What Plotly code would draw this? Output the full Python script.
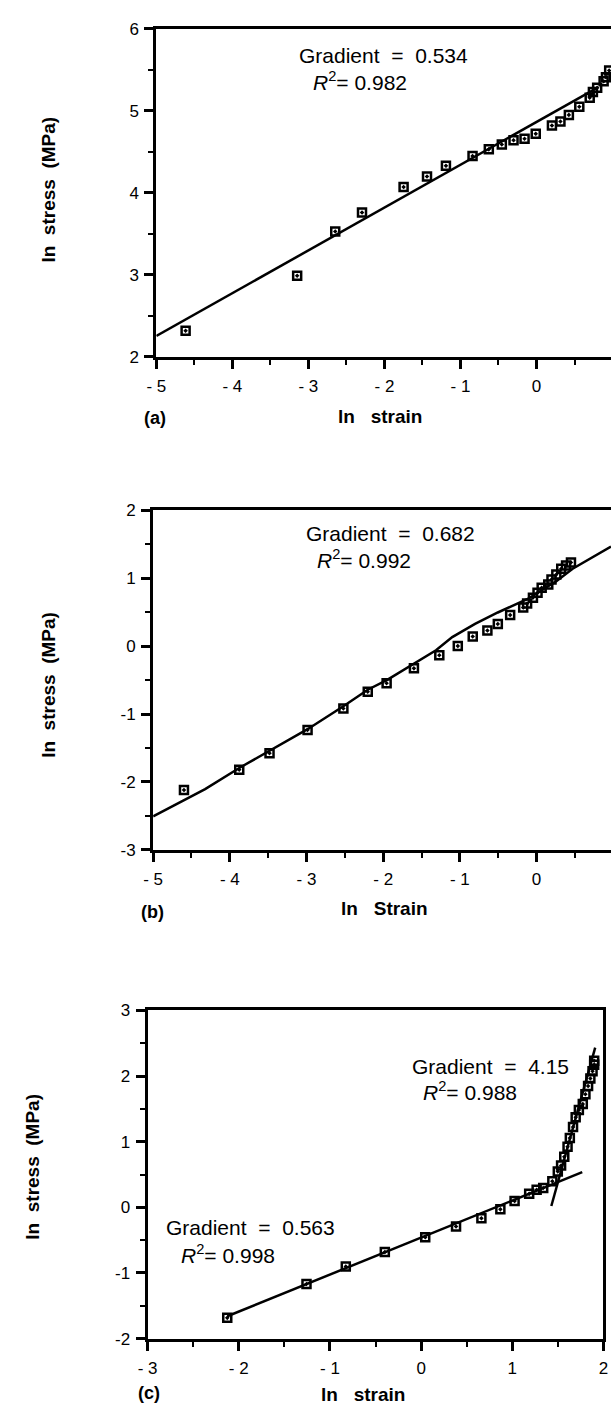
import plotly.graph_objects as go

W, H = 616, 1416
FONT = "Liberation Sans, Arial, Helvetica, sans-serif"

# ---------------- data ----------------
# panel (a)
a_strain = [-4.615, -3.148, -2.647, -2.295, -1.748, -1.440, -1.191, -0.841, -0.627, -0.456,
            -0.302, -0.157, -0.010, 0.203, 0.315, 0.426, 0.563, 0.700, 0.742, 0.798,
            0.883, 0.914, 0.956]
a_stress = [2.32, 2.99, 3.53, 3.76, 4.07, 4.20, 4.33, 4.45, 4.53, 4.59,
            4.64, 4.66, 4.72, 4.82, 4.87, 4.95, 5.05, 5.16, 5.23, 5.28,
            5.36, 5.41, 5.49]
a_fit_x = [-5.0, 0.78]
a_fit_y = [2.256, 5.27]

# panel (b)
b_strain = [-4.598, -3.877, -3.482, -2.986, -2.519, -2.201, -1.955, -1.599, -1.268, -1.027,
            -0.832, -0.641, -0.505, -0.344, -0.174, -0.123, -0.047, 0.013, 0.067, 0.153,
            0.195, 0.258, 0.322, 0.385, 0.449]
b_stress = [-2.119, -1.818, -1.576, -1.233, -0.917, -0.670, -0.544, -0.326, -0.132, 0.003,
            0.144, 0.231, 0.329, 0.459, 0.570, 0.628, 0.715, 0.788, 0.860, 0.910,
            0.983, 1.055, 1.142, 1.190, 1.234]
b_fit_x = [-5.0, -4.322, -3.877, -3.473, -2.986, -2.519, -2.201, -1.947, -1.599, -1.311,
           -1.099, -0.802, -0.505, -0.123, 0.258, 0.471, 0.971]
b_fit_y = [-2.506, -2.105, -1.794, -1.538, -1.222, -0.884, -0.641, -0.496, -0.253, -0.060,
           0.134, 0.329, 0.497, 0.692, 0.958, 1.142, 1.467]

# panel (c)
c_strain = [-2.126, -1.257, -0.826, -0.398, 0.045, 0.383, 0.661, 0.869, 1.025, 1.185,
            1.267, 1.339, 1.439, 1.499, 1.535, 1.570, 1.606, 1.631, 1.666, 1.695,
            1.730, 1.773, 1.802, 1.831, 1.856, 1.880, 1.898, 1.898]
c_stress = [-1.684, -1.167, -0.903, -0.682, -0.457, -0.291, -0.167, -0.031, 0.095, 0.205,
            0.269, 0.295, 0.396, 0.546, 0.636, 0.771, 0.922, 1.057, 1.222, 1.372,
            1.482, 1.572, 1.723, 1.847, 1.963, 2.073, 2.173, 2.234]
c_fit1_x = [-2.126, 1.767]
c_fit1_y = [-1.659, 0.535]
c_fit2_x = [1.428, 1.909]
c_fit2_y = [0.020, 2.433]

# tick labels
a_xticks = [-5, -4, -3, -2, -1, 0, 1]
a_xtext = ["- 5", "- 4", "- 3", "- 2", "- 1", "0", "1"]
a_yticks = [2, 3, 4, 5, 6]
b_xticks = [-5, -4, -3, -2, -1, 0, 1]
b_xtext = ["- 5", "- 4", "- 3", "- 2", "- 1", "0", "1"]
b_yticks = [-3, -2, -1, 0, 1, 2]
c_xticks = [-3, -2, -1, 0, 1, 2]
c_xtext = ["- 3", "- 2", "- 1", "0", "1", "2"]
c_yticks = [-2, -1, 0, 1, 2, 3]


def fx(px):
    return px / W


def fy(py):
    return 1 - py / H


fig = go.Figure()

marker = dict(symbol="square-open-dot", size=8, color="black", line=dict(width=2.5, color="black"))
line = dict(color="black", width=2.5)

# (a)
fig.add_trace(go.Scatter(x=a_fit_x, y=a_fit_y, mode="lines", line=line, xaxis="x", yaxis="y"))
fig.add_trace(go.Scatter(x=a_strain, y=a_stress, mode="markers", marker=marker, xaxis="x", yaxis="y"))
# (b)
fig.add_trace(go.Scatter(x=b_fit_x, y=b_fit_y, mode="lines", line=line, xaxis="x2", yaxis="y2"))
fig.add_trace(go.Scatter(x=b_strain, y=b_stress, mode="markers", marker=marker, xaxis="x2", yaxis="y2"))
# (c)
fig.add_trace(go.Scatter(x=c_fit1_x, y=c_fit1_y, mode="lines", line=line, xaxis="x3", yaxis="y3"))
fig.add_trace(go.Scatter(x=c_fit2_x, y=c_fit2_y, mode="lines", line=line, xaxis="x3", yaxis="y3"))
fig.add_trace(go.Scatter(x=c_strain, y=c_stress, mode="markers", marker=marker, xaxis="x3", yaxis="y3"))

tickfont = dict(family=FONT, size=17, color="black")


def xax(domain, rng, vals, text, anchor, mirror):
    return dict(domain=domain, range=rng, anchor=anchor, tickmode="array", tickvals=vals, ticktext=text,
                ticks="outside", ticklen=9, tickwidth=2.5, tickcolor="black",
                minor=dict(ticks="outside", ticklen=5, tickwidth=2, tickcolor="black", dtick=0.5,
                           showgrid=False),
                showline=True, linewidth=3, linecolor="black", mirror=mirror,
                showgrid=False, zeroline=False, tickfont=tickfont, ticklabelstandoff=3)


def yax(domain, rng, vals, anchor, mirror):
    return dict(domain=domain, range=rng, anchor=anchor, tickmode="array", tickvals=vals,
                ticktext=[str(v) for v in vals],
                ticks="outside", ticklen=9, tickwidth=2.5, tickcolor="black",
                minor=dict(ticks="outside", ticklen=5, tickwidth=2, tickcolor="black", dtick=0.5,
                           showgrid=False),
                showline=True, linewidth=3, linecolor="black", mirror=mirror,
                showgrid=False, zeroline=False, tickfont=tickfont, ticklabelstandoff=2)


a_xd = [fx(150), fx(616)]
a_yd = [fy(352.7), fy(20)]
b_xd = [fx(146.7), fx(616)]
b_yd = [fy(852.3), fy(508.3)]
c_xd = [fx(141), fx(608.3)]
c_yd = [fy(1347.7), fy(1015)]

fig.update_layout(
    width=W, height=H, margin=dict(l=0, r=0, t=0, b=0),
    paper_bgcolor="white", plot_bgcolor="white", showlegend=False,
    xaxis=xax(a_xd, [-5, 0.98], a_xticks, a_xtext, "y", True),
    yaxis=yax(a_yd, [2, 6], a_yticks, "x", False),
    xaxis2=xax(b_xd, [-5, 0.971], b_xticks, b_xtext, "y2", True),
    yaxis2=yax(b_yd, [-3, 2], b_yticks, "x2", False),
    xaxis3=xax(c_xd, [-3, 2], c_xticks, c_xtext, "y3", True),
    yaxis3=yax(c_yd, [-2, 3], c_yticks, "x3", True),
)

ann_font = dict(family=FONT, size=21, color="black")
title_font = dict(family=FONT, size=19, color="black")
lab_font = dict(family=FONT, size=18, color="black")
NB = "\u00a0"


def ann(px, py, text, font, xanchor="left", angle=0):
    fig.add_annotation(x=fx(px), y=fy(py), xref="paper", yref="paper", text=text, showarrow=False,
                       xanchor=xanchor, yanchor="middle", font=font, textangle=angle)


def r2(val):
    return "<i>R</i><sup>2</sup>= " + val


# gradient annotations
ann(294, 47, "Gradient" + NB + " = " + NB + "0.534", ann_font)
ann(308, 73, r2("0.982"), ann_font)
ann(301, 532, "Gradient" + NB + " = " + NB + "0.682", ann_font)
ann(313, 557, r2("0.992"), ann_font)
ann(410, 1072, "Gradient" + NB + " = " + NB + "4.15", ann_font)
ann(421, 1097, r2("0.988"), ann_font)
ann(158, 1235, "Gradient" + NB + " = " + NB + "0.563", ann_font)
ann(173, 1262, r2("0.998"), ann_font)

# axis titles
xt = "<b>ln" + NB * 3 + "strain</b>"
ann(379, 413, xt, title_font, "center")
ann(384, 912, "<b>ln" + NB * 3 + "Strain</b>", title_font, "center")
ann(362, 1404, xt, title_font, "center")
yt = "<b>ln" + NB * 2 + "stress" + NB * 2 + "(MPa)</b>"
ann(40, 183, yt, title_font, "center", -90)
ann(40, 685, yt, title_font, "center", -90)
ann(23, 1173, yt, title_font, "center", -90)

# panel labels
ann(149, 415, "<b>(a)</b>", lab_font, "center")
ann(146, 915, "<b>(b)</b>", lab_font, "center")
ann(142, 1403, "<b>(c)</b>", lab_font, "center")

fig.write_html("out.html")
